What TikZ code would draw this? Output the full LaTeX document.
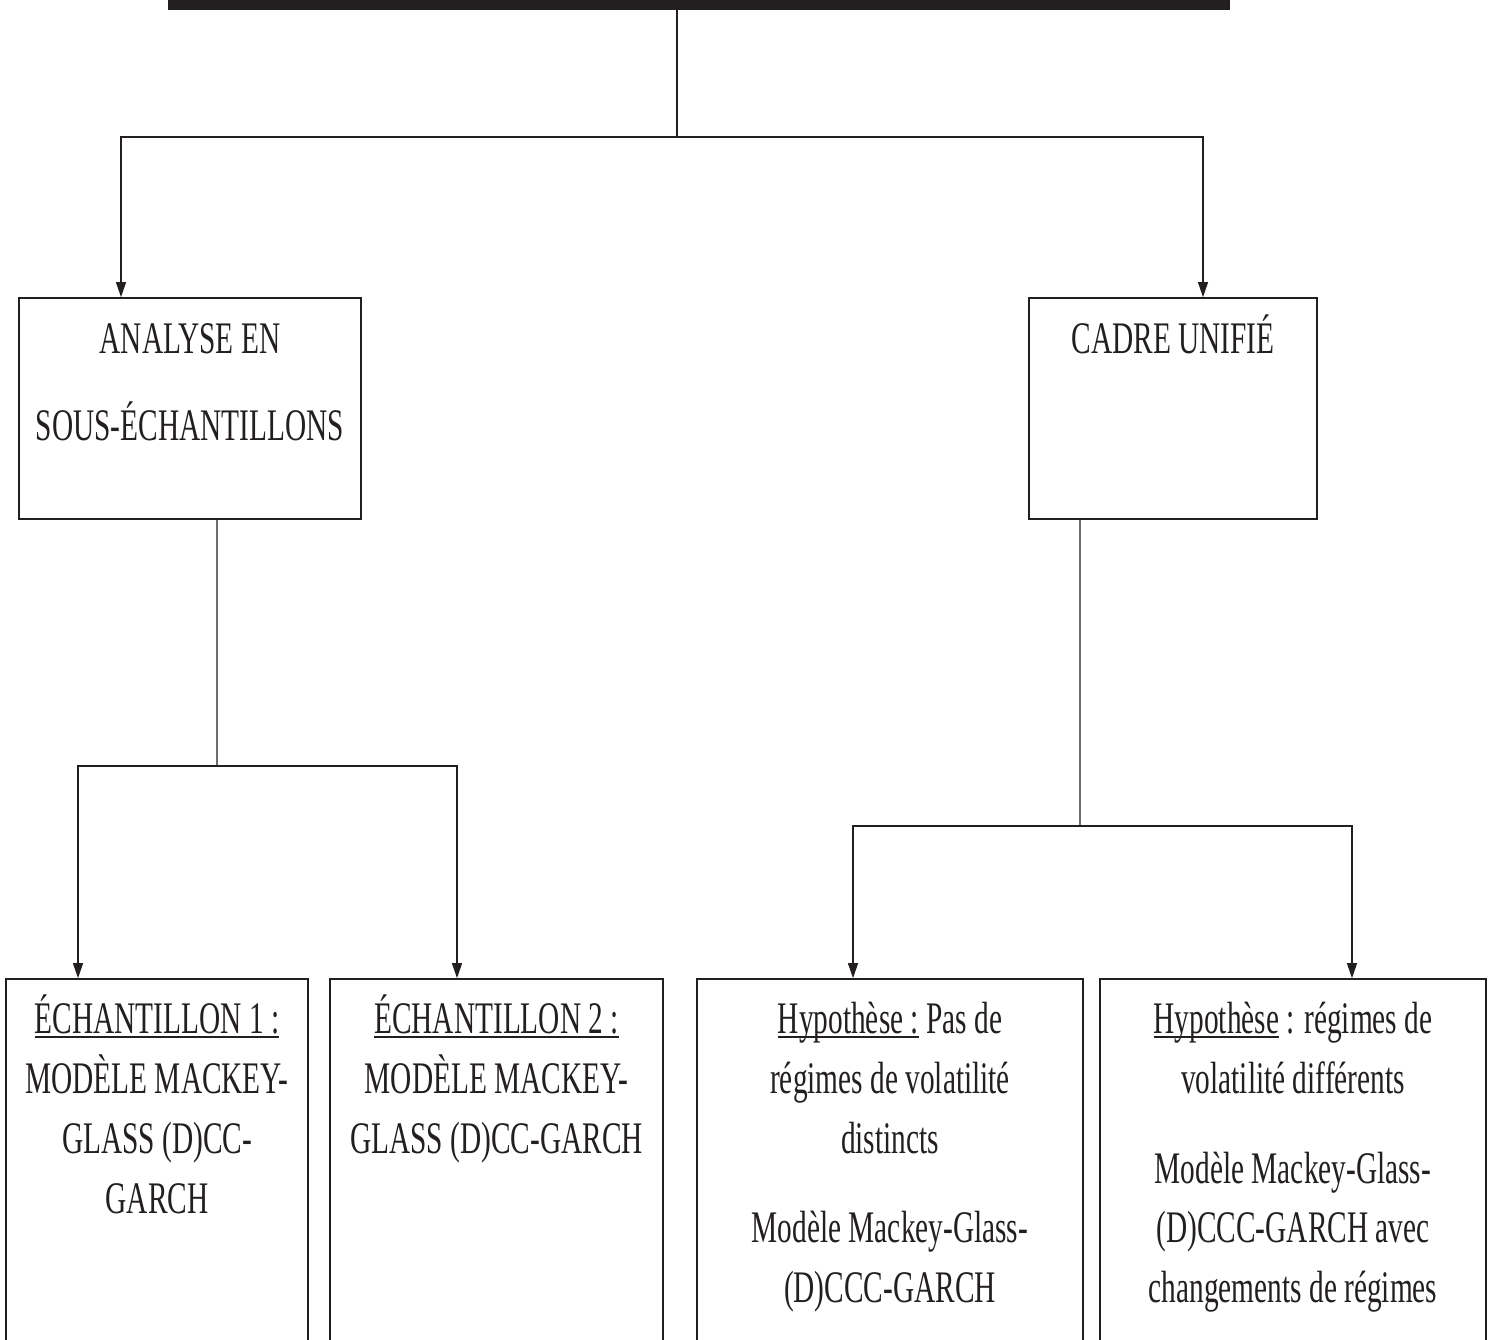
\documentclass[tikz,border=0pt]{standalone}
\usepackage{fontspec}
\setmainfont{Liberation Serif}[FakeStretch=0.65]
\usepackage{tikz}
\usetikzlibrary{positioning, arrows.meta}
\definecolor{ink}{HTML}{231F20}
% underline sitting close to the baseline
\newcommand{\undl}[1]{\setbox0\hbox{#1}\rlap{\rule[-0.09cm]{\wd0}{0.045cm}}\box0\relax}
% fixed top of the first line: 1cm above its baseline
\newcommand{\topline}{\rule{0pt}{1cm}}

\begin{document}
\begin{tikzpicture}[x=0.02cm, y=-0.02cm,
    box/.style={draw=ink, line width=1pt, inner sep=0pt},
    txt/.style={text=ink, align=center, inner sep=0pt, anchor=north,
        font=\fontsize{25.7pt}{34.1pt}\selectfont},
    link/.style={draw=ink, line width=0.7pt},
    arr/.style={link, -{Triangle[length=0.3cm, width=0.2cm]}}]
    \useasboundingbox (0,0) rectangle (1493,1339);
    \clip (0,0) rectangle (1493,1339);

    % Title box (cut off at the top)
    \node[fill=ink, inner sep=0pt, minimum width=21.24cm, minimum height=1.2cm] (title) at (699,-20) {};

    % Second level (text nodes: first baseline 50 below their top)
    \node[box, minimum width=6.84cm, minimum height=4.42cm] (analyse) at (190,408.5) {};
    \node[box, minimum width=5.76cm, minimum height=4.42cm] (cadre) at (1173,408.5) {};
    \node[txt] (analysetxt) at (190,303) {\topline ANALYSE EN\\[15.4pt] SOUS-ÉCHANTILLONS};
    \node[txt] (cadretxt) at (1173,303) {\topline CADRE UNIFIÉ};

    % Third level
    \node[box, minimum width=6.04cm, minimum height=8.42cm] (ech1) at (157,1189.5) {};
    \node[box, minimum width=6.66cm, minimum height=8.42cm] (ech2) at (496.5,1189.5) {};
    \node[box, minimum width=7.72cm, minimum height=8.42cm] (hyp1) at (890,1189.5) {};
    \node[box, minimum width=7.72cm, minimum height=8.42cm] (hyp2) at (1293,1189.5) {};
    \node[txt] (ech1txt) at (157,983) {\topline\undl{ÉCHANTILLON 1 :}\\ MODÈLE MACKEY-\\ GLASS (D)CC-\\ GARCH};
    \node[txt] (ech2txt) at (496.5,983) {\topline\undl{ÉCHANTILLON 2 :}\\ MODÈLE MACKEY-\\ GLASS (D)CC-GARCH};
    \node[txt] (hyp1txt) at (890,983) {\topline\undl{Hypothèse :} Pas de\\ régimes de volatilité\\ distincts\\[17pt] Modèle Mackey-Glass-\\ (D)CCC-GARCH};
    \node[txt] (hyp2txt) at (1293,983) {\topline\undl{Hypothèse} : régimes de\\ volatilité différents\\[17pt] Modèle Mackey-Glass-\\ (D)CCC-GARCH avec\\ changements de régimes};

    % Connectors
    \coordinate (split) at (677,137);
    \coordinate (lsplit) at (217,766);
    \coordinate (rsplit) at (1080,826);
    \draw[link] (title.south -| split) -- (split);
    \draw[arr] (split) -| ([xshift=-1.38cm]analyse.north);
    \draw[arr] (split) -| ([xshift=0.6cm]cadre.north);
    \draw[link] ([xshift=0.54cm]analyse.south) -- (lsplit);
    \draw[arr] (lsplit) -| ([xshift=-1.58cm]ech1.north);
    \draw[arr] (lsplit) -| ([xshift=-0.79cm]ech2.north);
    \draw[link] ([xshift=-1.86cm]cadre.south) -- (rsplit);
    \draw[arr] (rsplit) -| ([xshift=-0.74cm]hyp1.north);
    \draw[arr] (rsplit) -| ([xshift=1.18cm]hyp2.north);
\end{tikzpicture}
\end{document}
